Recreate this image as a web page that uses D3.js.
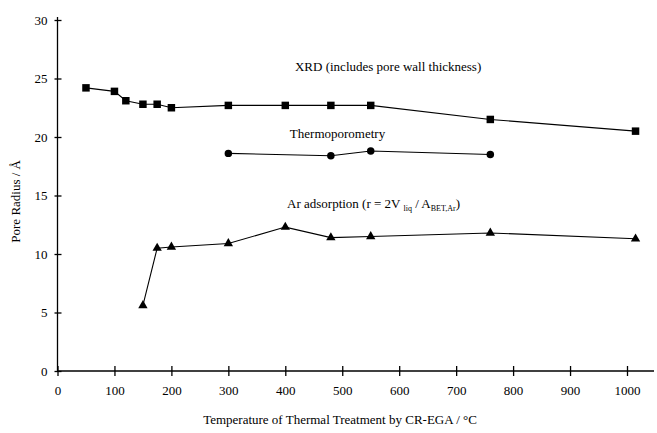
<!DOCTYPE html>
<html>
<head>
<meta charset="utf-8">
<script src="https://cdn.jsdelivr.net/npm/d3@7"></script>
<style>
  body { margin: 0; background: #fff; }
  svg { font-family: "Liberation Serif", "DejaVu Serif", serif; }
  .axis path, .axis line { stroke: #000; stroke-width: 1.3; }
</style>
</head>
<body>
<div id="holder"></div>
<script>
var width = 657;
var height = 433;
var serif = '"Liberation Serif", "DejaVu Serif", serif';

// temperatures and pore radii
var xrdTemp = [50, 100, 120, 150, 175, 200, 300, 400, 480, 550, 760, 1015];
var xrdRadius = [24.2, 23.9, 23.1, 22.8, 22.8, 22.5, 22.7, 22.7, 22.7, 22.7, 21.5, 20.5];
var thermoTemp = [300, 480, 550, 760];
var thermoRadius = [18.6, 18.4, 18.8, 18.5];
var arTemp = [150, 175, 200, 300, 400, 480, 550, 760, 1015];
var arRadius = [5.6, 10.5, 10.6, 10.9, 12.3, 11.4, 11.5, 11.8, 11.3];
var xTicks = [0, 100, 200, 300, 400, 500, 600, 700, 800, 900, 1000];
var yTicks = [0, 5, 10, 15, 20, 25, 30];

var x = d3.scaleLinear().domain([0, 1000]).range([57.5, 627]);
var y = d3.scaleLinear().domain([0, 30]).range([371, 20]);

var svg = d3.select("#holder")
  .append("svg")
  .attr("width", width)
  .attr("height", height);

// axes
var yAxis = svg.append("g")
  .attr("class", "axis")
  .attr("transform", "translate(" + x(0) + ",0)")
  .call(d3.axisLeft(y).tickValues(yTicks).tickSizeInner(4).tickSizeOuter(0).tickPadding(6));
yAxis.attr("font-family", serif).attr("font-size", 13);
yAxis.selectAll("text").style("font-family", serif).style("font-size", "13px").attr("fill", "#000");
yAxis.select(".domain").attr("d", "M0," + y(0) + "V" + (y(30) - 3));
yAxis.selectAll(".tick line").attr("x1", -3).attr("x2", 4);

var xAxis = svg.append("g")
  .attr("class", "axis")
  .attr("transform", "translate(0," + y(0) + ")")
  .call(d3.axisBottom(x).tickValues(xTicks).tickFormat(d3.format("d")).tickSizeInner(5).tickSizeOuter(0).tickPadding(10));
xAxis.attr("font-family", serif).attr("font-size", 13);
xAxis.selectAll("text").style("font-family", serif).style("font-size", "13px").attr("fill", "#000");
xAxis.select(".domain").attr("d", "M" + x(0) + ",0H654").attr("stroke-width", 1);
xAxis.selectAll(".tick line").attr("y1", -5).attr("y2", 5);

// axis titles
svg.append("text")
  .attr("transform", "translate(20," + y(14.5) + ") rotate(-90)")
  .attr("text-anchor", "middle")
  .style("font-size", "13px")
  .text("Pore Radius / Å");

svg.append("text")
  .attr("x", 340)
  .attr("y", 424)
  .attr("text-anchor", "middle")
  .style("font-size", "13px")
  .text("Temperature of Thermal Treatment by CR-EGA / °C");

var line = d3.line()
  .x(function(d) { return x(d[0]); })
  .y(function(d) { return y(d[1]); });

function series(temps, radii, shape, size) {
  var pts = temps.map(function(t, i) { return [t, radii[i]]; });
  var g = svg.append("g");
  g.append("path")
    .datum(pts)
    .attr("fill", "none")
    .attr("stroke", "#000")
    .attr("stroke-width", 1.1)
    .attr("d", line);
  g.selectAll("path.mark")
    .data(pts)
    .enter().append("path")
    .attr("class", "mark")
    .attr("transform", function(d) { return "translate(" + x(d[0]) + "," + y(d[1]) + ")"; })
    .attr("d", d3.symbol().type(shape).size(size))
    .attr("fill", "#000");
}

series(xrdTemp, xrdRadius, d3.symbolSquare, 56);
series(thermoTemp, thermoRadius, d3.symbolCircle, 44);
series(arTemp, arRadius, d3.symbolTriangle, 38);

// series labels
svg.append("text")
  .attr("x", x(417))
  .attr("y", y(25.6))
  .style("font-size", "13px")
  .text("XRD (includes pore wall thickness)");

svg.append("text")
  .attr("x", x(408))
  .attr("y", y(19.9))
  .style("font-size", "13px")
  .text("Thermoporometry");

var ar = svg.append("text")
  .attr("x", x(403))
  .attr("y", y(13.9))
  .style("font-size", "13px");
ar.append("tspan").text("Ar adsorption (r = 2V ");
ar.append("tspan").attr("dy", 3).style("font-size", "8px").text("liq");
ar.append("tspan").attr("dy", -3).text(" / A");
ar.append("tspan").attr("dy", 3).style("font-size", "8px").text("BET,Ar");
ar.append("tspan").attr("dy", -3).text(")");
</script>
</body>
</html>
